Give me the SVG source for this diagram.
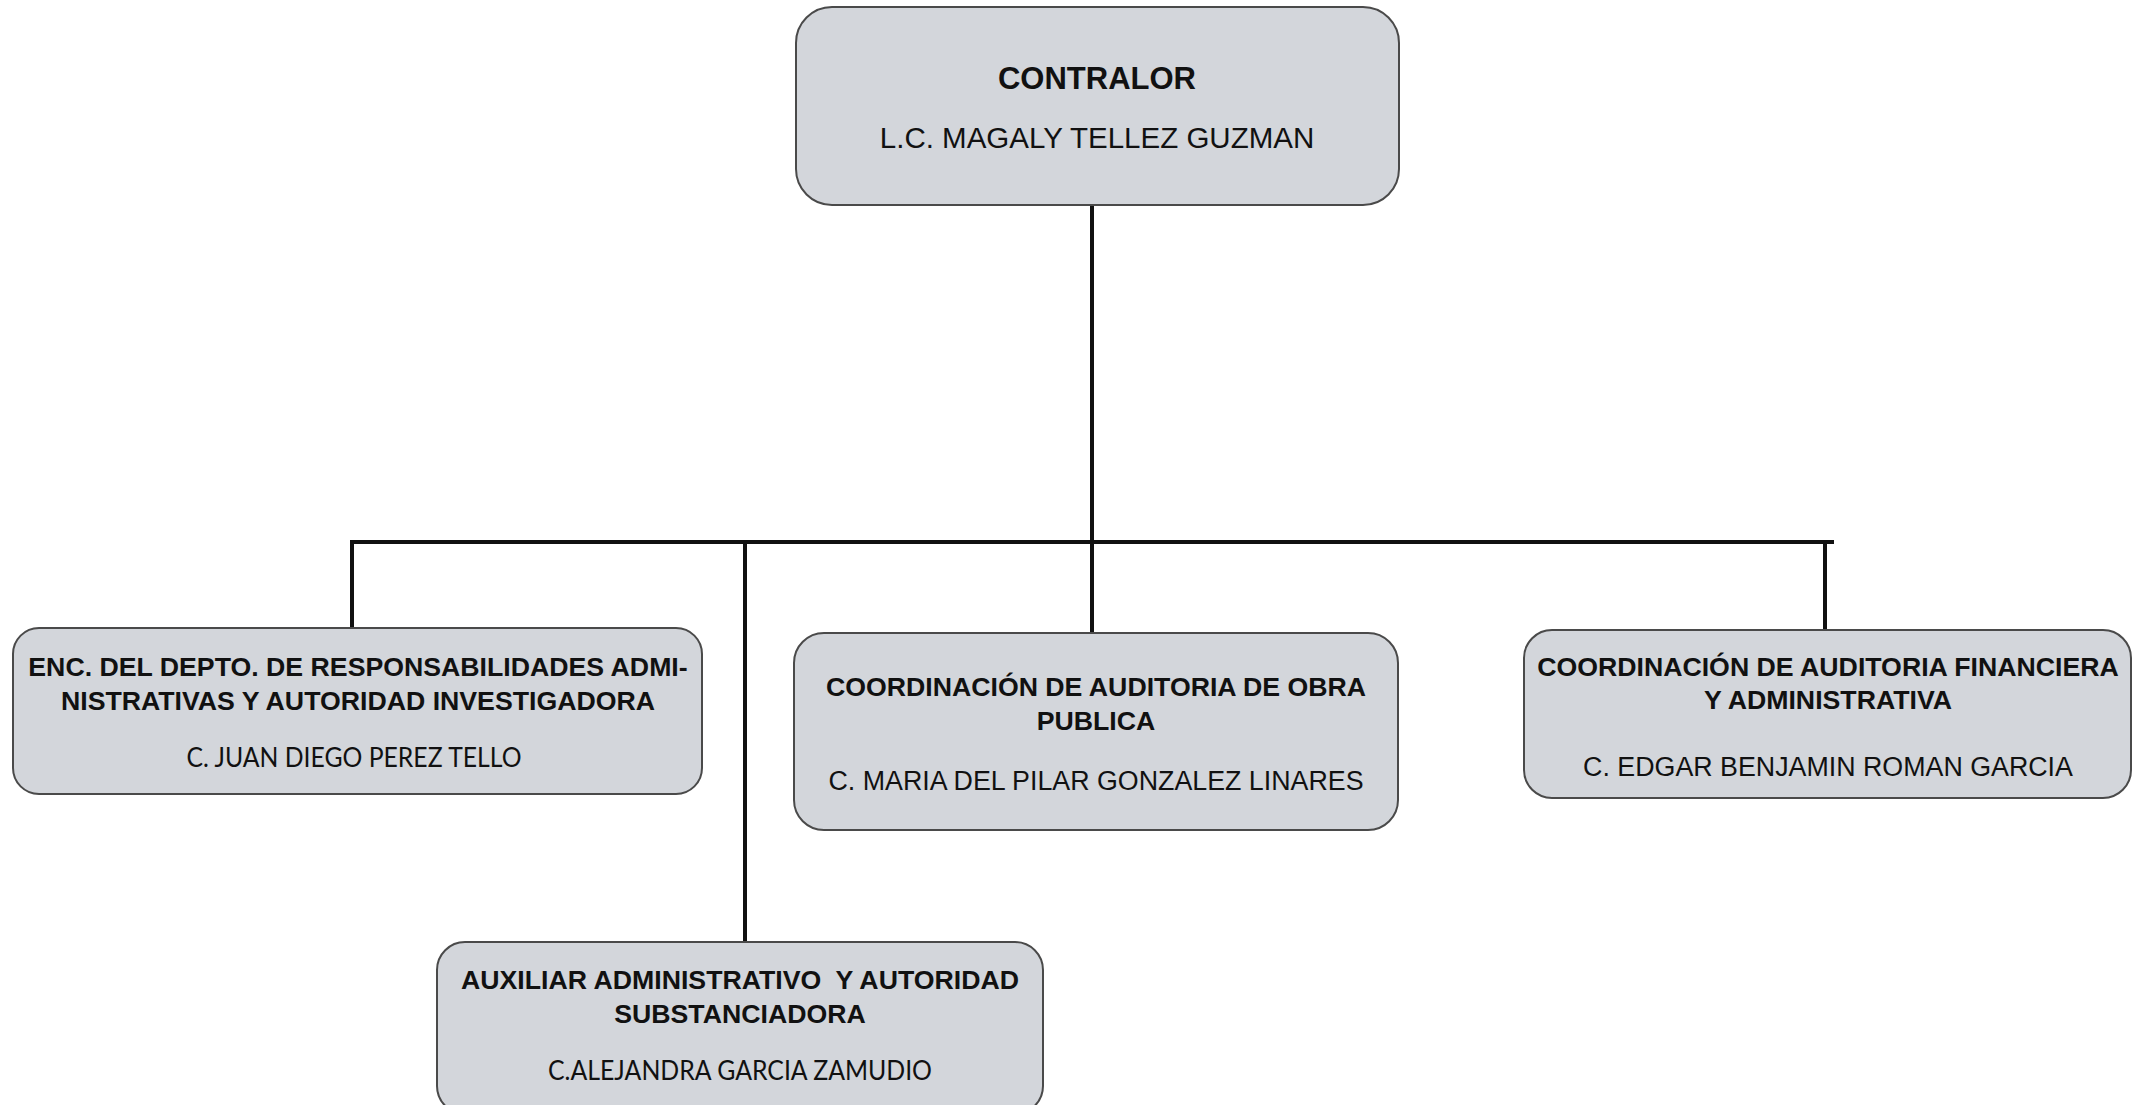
<svg xmlns="http://www.w3.org/2000/svg" width="2134" height="1105" viewBox="0 0 2134 1105">
<style>
.box{fill:#d3d6db;stroke:#4a4a4a;stroke-width:2}
.t{font-family:"Liberation Sans",Arial,sans-serif;font-weight:bold;font-size:26.7px;fill:#111;text-anchor:middle}
.n{font-family:"Liberation Sans",Arial,sans-serif;font-size:26.8px;fill:#111;text-anchor:middle}
.c{font-family:Lato,"Open Sans",sans-serif;font-size:27px;fill:#111;text-anchor:middle}
.conn{stroke:#111;stroke-width:4;fill:none}
</style>
<rect width="2134" height="1105" fill="#ffffff"/>
<g id="connectors">
<line class="conn" x1="1092" y1="205" x2="1092" y2="633"/>
<line class="conn" x1="351" y1="542" x2="1834" y2="542"/>
<line class="conn" x1="352" y1="540" x2="352" y2="628"/>
<line class="conn" x1="745" y1="540" x2="745" y2="942"/>
<line class="conn" x1="1825" y1="540" x2="1825" y2="630"/>
</g>
<g id="contralor">
<rect class="box" x="796" y="7" width="603" height="198" rx="36"/>
<text class="t" x="1097" y="89" style="font-size:31px">CONTRALOR</text>
<text class="n" x="1097" y="148" style="font-size:29.5px">L.C. MAGALY TELLEZ GUZMAN</text>
</g>
<g id="responsabilidades">
<rect class="box" x="13" y="628" width="689" height="166" rx="26"/>
<text class="t" x="358" y="676">ENC. DEL DEPTO. DE RESPONSABILIDADES ADMI-</text>
<text class="t" x="358" y="710">NISTRATIVAS Y AUTORIDAD INVESTIGADORA</text>
<text class="c" x="354" y="767" textLength="335" lengthAdjust="spacingAndGlyphs">C. JUAN DIEGO PEREZ TELLO</text>
</g>
<g id="obra-publica">
<rect class="box" x="794" y="633" width="604" height="197" rx="30"/>
<text class="t" x="1096" y="696">COORDINACIÓN DE AUDITORIA DE OBRA</text>
<text class="t" x="1096" y="730">PUBLICA</text>
<text class="n" x="1096" y="790">C. MARIA DEL PILAR GONZALEZ LINARES</text>
</g>
<g id="financiera">
<rect class="box" x="1524" y="630" width="607" height="168" rx="28"/>
<text class="t" x="1828" y="676">COORDINACIÓN DE AUDITORIA FINANCIERA</text>
<text class="t" x="1828" y="709">Y ADMINISTRATIVA</text>
<text class="n" x="1828" y="776">C. EDGAR BENJAMIN ROMAN GARCIA</text>
</g>
<g id="auxiliar">
<rect class="box" x="437" y="942" width="606" height="172" rx="28"/>
<text class="t" x="740" y="989" xml:space="preserve">AUXILIAR ADMINISTRATIVO  Y AUTORIDAD</text>
<text class="t" x="740" y="1023">SUBSTANCIADORA</text>
<text class="c" x="740" y="1080" textLength="384" lengthAdjust="spacingAndGlyphs">C.ALEJANDRA GARCIA ZAMUDIO</text>
</g>
</svg>
